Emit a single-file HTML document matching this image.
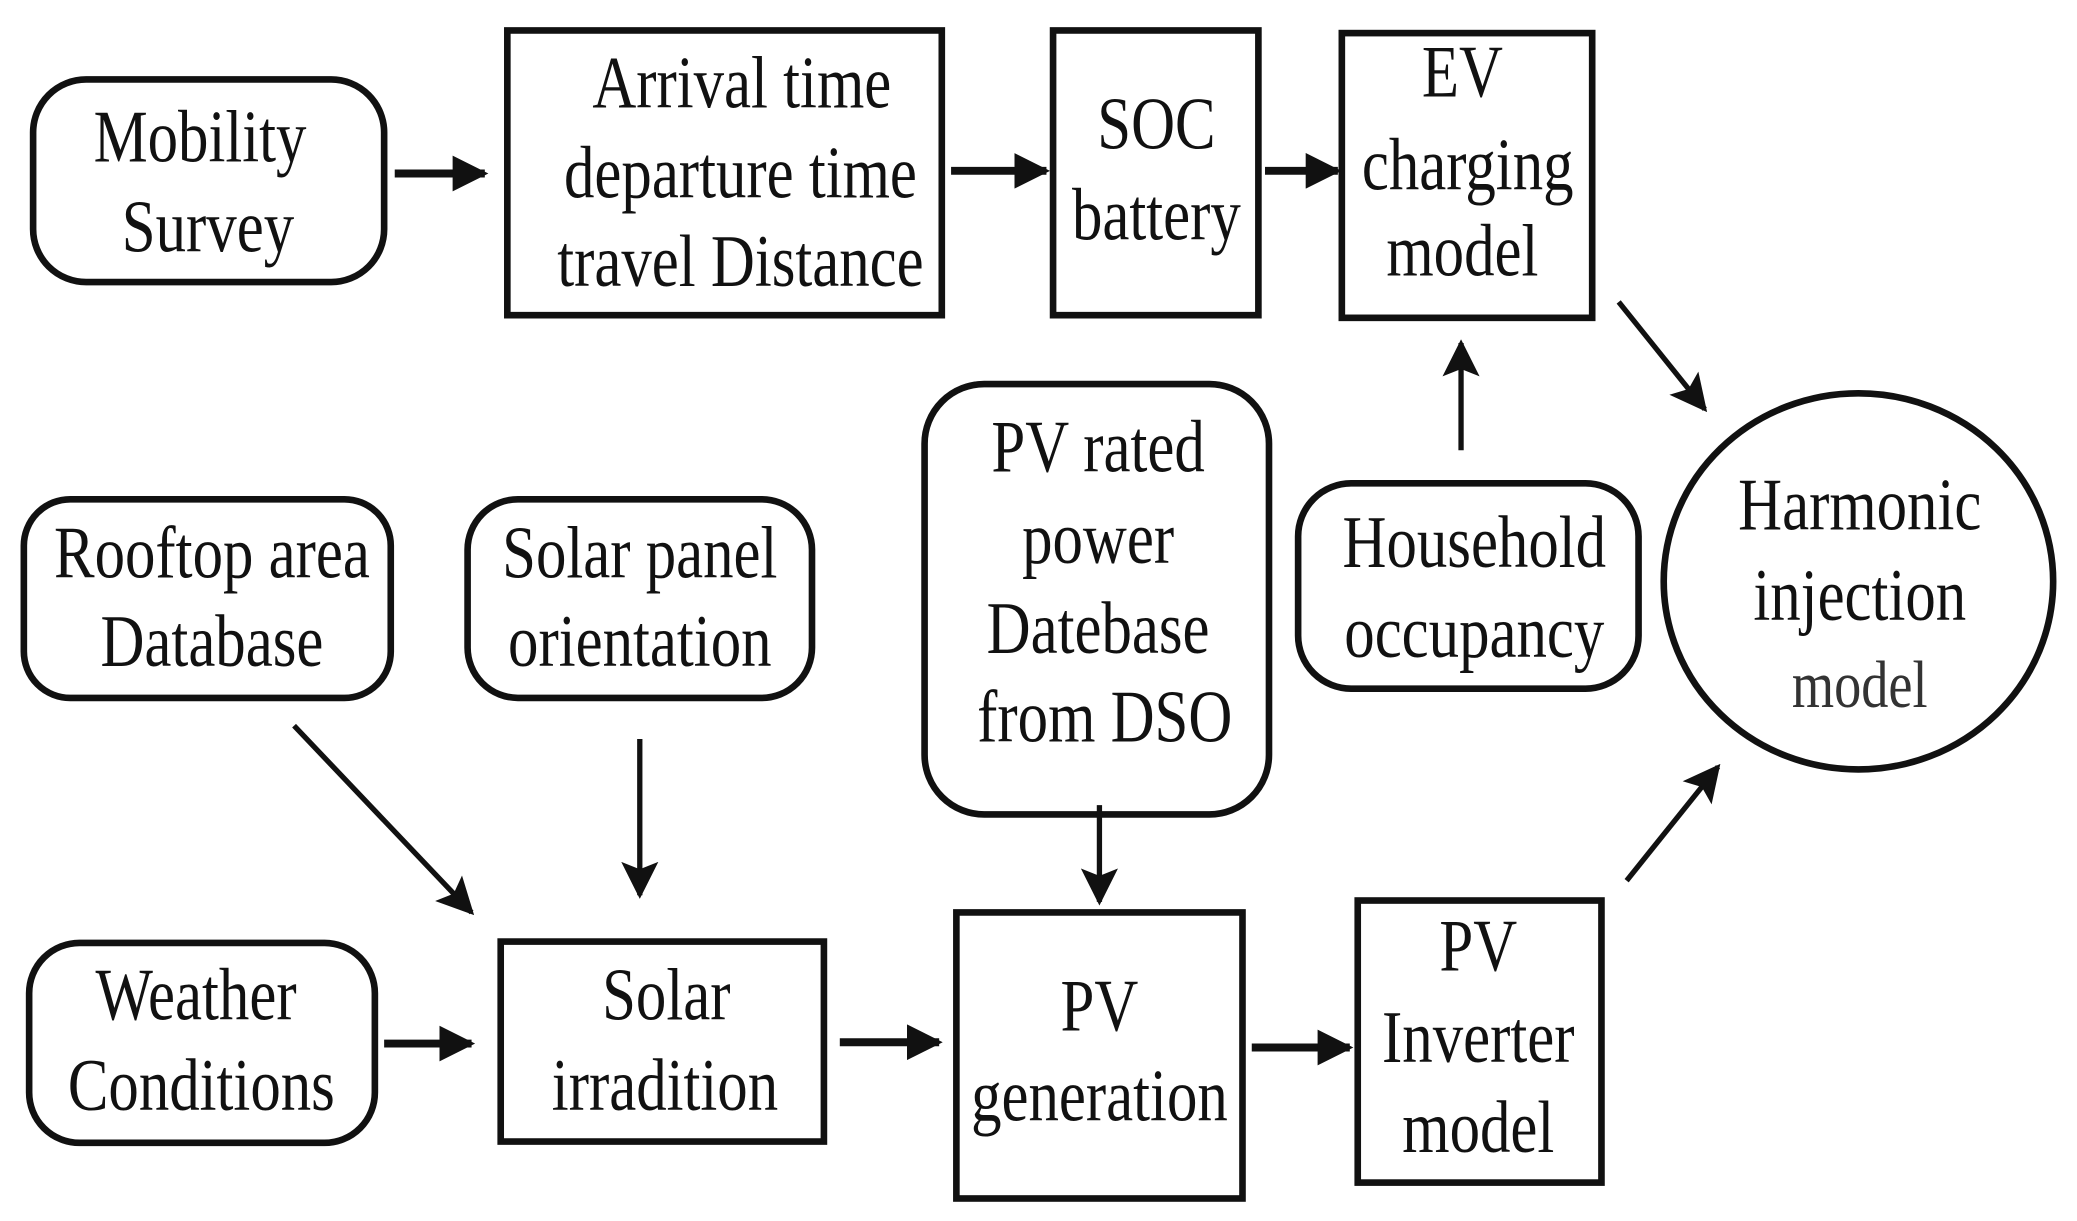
<!DOCTYPE html>
<html><head><meta charset="utf-8"><style>
html,body{margin:0;padding:0;background:#fff;}
svg{display:block;}
text{font-family:"Liberation Serif",serif;font-size:56px;fill:#111;text-anchor:middle;}
</style></head><body>
<svg width="2077" height="1221" viewBox="0 0 1568 922" preserveAspectRatio="none" xmlns="http://www.w3.org/2000/svg">
<defs>
<marker id="a" viewBox="0 0 10 10" refX="9" refY="5" markerWidth="4.5" markerHeight="4.5" orient="auto" markerUnits="strokeWidth"><path d="M0,0 L10,5 L0,10 z" fill="#111"/></marker>
<marker id="b" viewBox="0 0 10 10" refX="9" refY="5" markerWidth="7" markerHeight="9" orient="auto" markerUnits="strokeWidth"><path d="M0,0 L10,5 L0,10 L2,5 z" fill="#111"/></marker>
</defs>
<g fill="none" stroke="#111" stroke-width="5">
<rect x="25" y="60" width="265" height="153" rx="40"/>
<rect x="383" y="23" width="328" height="215"/>
<rect x="795" y="23" width="155" height="215"/>
<rect x="1013" y="25" width="189" height="215"/>
<ellipse cx="1403" cy="439" rx="147" ry="142"/>
<rect x="980" y="365" width="257" height="155" rx="40"/>
<rect x="698" y="290" width="260" height="325" rx="45"/>
<rect x="18" y="377" width="277" height="150" rx="35"/>
<rect x="353" y="377" width="260" height="150" rx="38"/>
<rect x="22" y="712" width="261" height="151" rx="38"/>
<rect x="378" y="711" width="244" height="151"/>
<rect x="722" y="689" width="216" height="216"/>
<rect x="1025" y="680" width="184" height="213"/>
</g>
<g stroke="#111" stroke-width="6" fill="none">
<line x1="298" y1="131" x2="366" y2="131" marker-end="url(#a)"/>
<line x1="718" y1="129" x2="790" y2="129" marker-end="url(#a)"/>
<line x1="955" y1="129" x2="1010" y2="129" marker-end="url(#a)"/>
<line x1="290" y1="788" x2="356" y2="788" marker-end="url(#a)"/>
<line x1="634" y1="787" x2="709" y2="787" marker-end="url(#a)"/>
<line x1="945" y1="791" x2="1019" y2="791" marker-end="url(#a)"/>
</g>
<g stroke="#111" stroke-width="4" fill="none">
<line x1="1222" y1="228" x2="1287" y2="309" marker-end="url(#b)"/>
<line x1="1103" y1="340" x2="1103" y2="259" marker-end="url(#b)"/>
<line x1="222" y1="548" x2="356" y2="689" marker-end="url(#b)"/>
<line x1="483" y1="558" x2="483" y2="676" marker-end="url(#b)"/>
<line x1="830" y1="608" x2="830" y2="681" marker-end="url(#b)"/>
<line x1="1228" y1="665" x2="1297" y2="579" marker-end="url(#b)"/>
</g>
<g>
<text transform="translate(151,122) scale(0.82,1)">Mobility</text>
<text transform="translate(157,190) scale(0.82,1)">Survey</text>
<text transform="translate(560,81) scale(0.82,1)">Arrival time</text>
<text transform="translate(559,149) scale(0.82,1)">departure time</text>
<text transform="translate(559,216) scale(0.82,1)">travel Distance</text>
<text transform="translate(873,112) scale(0.82,1)">SOC</text>
<text transform="translate(873,181) scale(0.82,1)">battery</text>
<text transform="translate(1104,73) scale(0.82,1)">EV</text>
<text transform="translate(1108,143) scale(0.82,1)">charging</text>
<text transform="translate(1104,208) scale(0.82,1)">model</text>
<text transform="translate(1404,400) scale(0.82,1)">Harmonic</text>
<text transform="translate(1404,468) scale(0.82,1)">injection</text>
<text transform="translate(1404,534) scale(0.82,1)" style="font-size:50px;fill:#333">model</text>
<text transform="translate(1113,428) scale(0.82,1)">Household</text>
<text transform="translate(1113,496) scale(0.82,1)">occupancy</text>
<text transform="translate(829,356) scale(0.82,1)">PV rated</text>
<text transform="translate(829,425) scale(0.82,1)">power</text>
<text transform="translate(829,493) scale(0.82,1)">Datebase</text>
<text transform="translate(834,560) scale(0.82,1)">from DSO</text>
<text transform="translate(160,436) scale(0.82,1)">Rooftop area</text>
<text transform="translate(160,503) scale(0.82,1)">Database</text>
<text transform="translate(483,436) scale(0.82,1)">Solar panel</text>
<text transform="translate(483,503) scale(0.82,1)">orientation</text>
<text transform="translate(148,770) scale(0.82,1)">Weather</text>
<text transform="translate(152,838) scale(0.82,1)">Conditions</text>
<text transform="translate(503,770) scale(0.82,1)">Solar</text>
<text transform="translate(502,838) scale(0.82,1)">irradition</text>
<text transform="translate(830,778) scale(0.82,1)">PV</text>
<text transform="translate(830,846) scale(0.82,1)">generation</text>
<text transform="translate(1116,733) scale(0.82,1)">PV</text>
<text transform="translate(1116,802) scale(0.82,1)">Inverter</text>
<text transform="translate(1116,870) scale(0.82,1)">model</text>
</g>
</svg>
</body></html>
